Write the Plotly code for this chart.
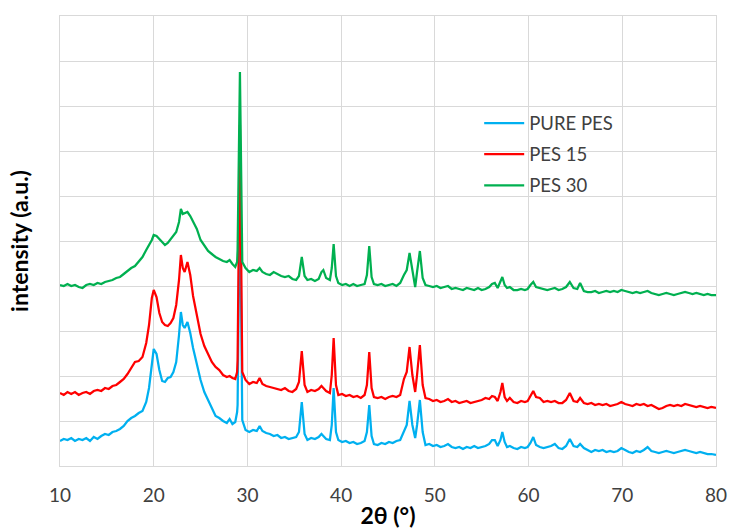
import plotly.graph_objects as go

# Diffraction angle 2θ (degrees), shared by all three patterns
two_theta = [
    10.0, 10.4, 10.8, 11.2, 11.6, 12.0, 12.4, 12.8, 13.2, 13.6,
    14.0, 14.4, 14.8, 15.2, 15.6, 16.0, 16.4, 16.8, 17.2, 17.6,
    18.0, 18.4, 18.8, 19.2, 19.5, 19.8, 20.0, 20.3, 20.6, 20.9,
    21.2, 21.5, 21.8, 22.1, 22.4, 22.7, 22.9, 23.1, 23.3, 23.6,
    23.9, 24.2, 24.6, 25.0, 25.4, 25.8, 26.2, 26.6, 27.0, 27.4,
    27.8, 28.1, 28.4, 28.7, 28.9, 28.95, 29.2, 29.45, 29.8, 30.2,
    30.6, 31.0, 31.3, 31.6, 32.0, 32.4, 32.8, 33.2, 33.6, 34.0,
    34.4, 34.8, 35.2, 35.5, 35.8, 36.1, 36.4, 36.8, 37.2, 37.6,
    37.9, 38.1, 38.4, 38.8, 39.0, 39.2, 39.45, 39.7, 40.1, 40.5,
    40.9, 41.3, 41.7, 42.1, 42.5, 42.75, 43.0, 43.25, 43.5, 43.9,
    44.3, 44.7, 45.1, 45.5, 45.9, 46.3, 46.7, 47.0, 47.3, 47.6,
    47.9, 48.1, 48.4, 48.7, 49.0, 49.4, 49.8, 50.2, 50.6, 51.0,
    51.4, 51.8, 52.2, 52.6, 53.0, 53.4, 53.8, 54.2, 54.6, 55.0,
    55.4, 55.8, 56.1, 56.4, 56.7, 57.0, 57.2, 57.45, 57.7, 58.0,
    58.4, 58.8, 59.2, 59.6, 59.9, 60.2, 60.5, 60.8, 61.2, 61.6,
    62.0, 62.4, 62.8, 63.2, 63.6, 64.0, 64.4, 64.8, 65.2, 65.5,
    65.9, 66.3, 66.7, 67.1, 67.5, 67.9, 68.3, 68.7, 69.1, 69.5,
    69.9, 70.3, 70.7, 71.1, 71.5, 71.9, 72.3, 72.7, 73.1, 73.5,
    73.9, 74.3, 74.7, 75.1, 75.5, 75.9, 76.3, 76.7, 77.1, 77.5,
    77.9, 78.3, 78.7, 79.1, 79.5, 80.0,
]

# Intensities (a.u.), patterns stacked with vertical offsets
pure_pes = [
    25, 27, 26, 28, 25, 27, 26, 28, 25, 29,
    27, 30, 32, 31, 34, 35, 37, 40, 45, 48,
    50, 53, 55, 64, 78, 104, 117, 112, 96, 85,
    84, 88, 89, 94, 104, 131, 154, 141, 138, 144,
    133, 118, 101, 86, 74, 66, 58, 50, 48, 45,
    43, 47, 42, 44, 54, 61, 281, 46, 36, 34,
    36, 35, 40, 35, 33, 32, 30, 31, 28, 29,
    27, 28, 29, 34, 64, 32, 26, 28, 27, 29,
    32, 30, 27, 26, 41, 78, 34, 26, 24, 25,
    23, 24, 22, 23, 25, 34, 61, 30, 22, 21,
    23, 22, 24, 23, 25, 26, 34, 41, 65, 41,
    28, 41, 66, 34, 21, 22, 20, 21, 19, 20,
    22, 19, 18, 19, 17, 19, 18, 20, 18, 19,
    20, 22, 26, 26, 20, 26, 34, 24, 19, 20,
    18, 17, 19, 18, 19, 23, 29, 21, 19, 18,
    19, 20, 22, 18, 17, 20, 27, 20, 19, 22,
    18, 16, 14, 16, 15, 16, 14, 15, 14, 15,
    18, 16, 14, 13, 15, 14, 16, 19, 15, 14,
    13, 14, 15, 14, 13, 14, 15, 16, 15, 14,
    13, 14, 13, 12, 12, 11,
]

pes_15 = [
    73, 71, 74, 72, 74, 71, 73, 74, 72, 75,
    76, 75, 78, 77, 80, 81, 84, 87, 92, 98,
    104, 105, 109, 123, 141, 168, 176, 169, 153, 144,
    141, 140, 143, 148, 161, 186, 211, 198, 194, 204,
    191, 170, 149, 132, 120, 112, 104, 99, 96, 91,
    89, 90, 88, 87, 94, 106, 341, 94, 86, 82,
    84, 83, 88, 82, 80, 79, 78, 77, 76, 78,
    75, 74, 77, 84, 115, 81, 74, 76, 75, 77,
    80, 78, 75, 73, 91, 128, 81, 71, 72, 70,
    71, 69, 70, 68, 71, 81, 114, 78, 69, 68,
    69, 67, 69, 70, 69, 71, 87, 94, 119, 91,
    74, 91, 121, 81, 68, 67, 65, 66, 64, 65,
    67, 64, 65, 63, 64, 65, 63, 64, 65, 66,
    68, 67, 70, 69, 65, 74, 83, 69, 65, 68,
    64, 63, 65, 64, 65, 70, 75, 69, 68, 64,
    65, 64, 65, 63, 63, 66, 73, 65, 64, 68,
    63, 62, 63, 61, 62, 61, 62, 60, 61, 62,
    64, 62, 61, 60, 62, 61, 62, 60, 61, 59,
    57, 58, 60, 61, 60, 61, 60, 62, 61, 60,
    59, 60, 59, 58, 59, 58,
]

pes_30 = [
    181, 180, 182, 180, 181, 179, 178, 181, 182, 181,
    183, 182, 184, 185, 186, 188, 189, 192, 195, 198,
    200, 204, 209, 216, 221, 226, 231, 230, 227, 224,
    221, 223, 227, 230, 234, 244, 257, 252, 253, 254,
    250, 244, 237, 226, 220, 215, 212, 209, 207, 205,
    204, 206, 202, 199, 204, 216, 394, 204, 198, 194,
    196, 195, 198, 194, 192, 191, 194, 192, 190, 189,
    190, 187, 186, 190, 209, 190, 186, 187, 185, 187,
    194, 196, 188, 186, 198, 222, 190, 183, 181, 182,
    180, 182, 180, 181, 182, 191, 220, 189, 182, 181,
    182, 180, 181, 182, 180, 183, 191, 196, 213, 196,
    179, 194, 215, 188, 181, 180, 179, 180, 178, 179,
    180, 177, 178, 177, 176, 178, 177, 176, 178, 176,
    177, 179, 182, 183, 178, 184, 189, 181, 178, 179,
    176, 176, 177, 176, 177, 181, 184, 179, 178, 177,
    176, 177, 178, 176, 177, 179, 184, 178, 177, 183,
    175, 174, 174, 175, 173, 174, 175, 174, 175, 174,
    176, 175, 174, 173, 174, 173, 174, 175, 173, 172,
    171, 172, 173, 172, 171, 172, 173, 174, 173, 172,
    173, 172, 171, 172, 171, 171,
]

series_names = ["PURE PES", "PES 15", "PES 30"]
series_colors = ["#00B0F0", "#FF0000", "#00B050"]
series_values = [pure_pes, pes_15, pes_30]

x_ticks = [10, 20, 30, 40, 50, 60, 70, 80]

fig = go.Figure()
for name, color, values in zip(series_names, series_colors, series_values):
    fig.add_trace(go.Scatter(
        x=two_theta, y=values, name=name, mode="lines", legendgroup=name,
        line=dict(color=color, width=2.25, shape="linear"),
    ))

grid_color = "#D9D9D9"
fig.update_layout(
    width=729, height=531,
    margin=dict(l=60, r=13, t=16, b=65, autoexpand=False),
    paper_bgcolor="white", plot_bgcolor="white",
    font=dict(family="Lato, 'Open Sans', sans-serif", color="#404040"),
    showlegend=True,
    legend=dict(
        x=0.639, y=0.803, xanchor="left", yanchor="top",
        bgcolor="rgba(0,0,0,0)", font=dict(size=18.5, color="#404040"),
        tracegroupgap=4, itemwidth=40,
    ),
    xaxis=dict(
        range=[10, 80], tickvals=x_ticks, showgrid=True, gridcolor=grid_color,
        gridwidth=1, zeroline=False, showline=True, linecolor=grid_color,
        linewidth=1, mirror=True, ticks="outside", ticklen=12,
        tickcolor="rgba(0,0,0,0)", tickfont=dict(size=19, color="#404040"),
        automargin=False,
        title=dict(text="<b>2θ (°)</b>", font=dict(size=23, color="black"),
                   standoff=3),
    ),
    yaxis=dict(
        range=[0, 450], dtick=45, showgrid=True, gridcolor=grid_color,
        gridwidth=1, zeroline=False, showline=True, linecolor=grid_color,
        linewidth=1, mirror=True, showticklabels=False, automargin=False,
        title=dict(text="<b>intensity (a.u.)</b>", font=dict(size=23, color="black"),
                   standoff=23),
    ),
)

fig.write_html("out.html")
